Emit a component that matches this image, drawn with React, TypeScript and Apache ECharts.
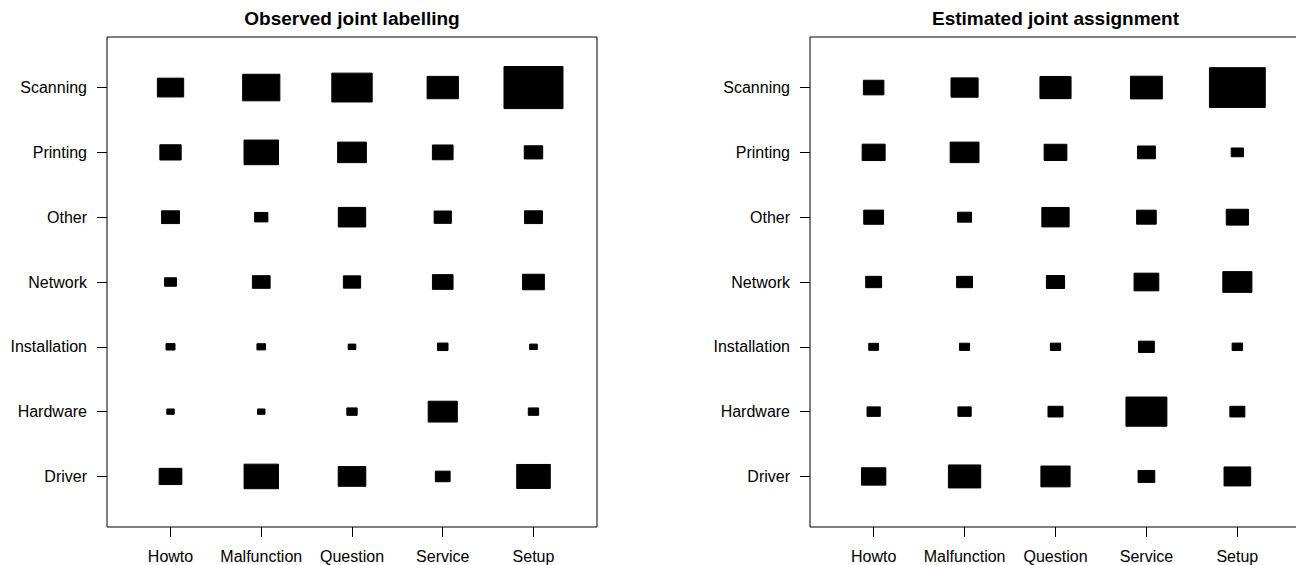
import React, { useEffect, useRef } from "react";
import * as echarts from "echarts";

// Categories
const xCategories = ["Howto", "Malfunction", "Question", "Service", "Setup"];
const yCategories = ["Driver", "Hardware", "Installation", "Network", "Other", "Printing", "Scanning"];

const panelTitles = ["Observed joint labelling", "Estimated joint assignment"];

// Square side (in category units), rows follow yCategories (bottom to top), columns follow xCategories
const observedDriver = [0.25, 0.379, 0.304, 0.163, 0.37];
const observedHardware = [0.082, 0.082, 0.114, 0.321, 0.114];
const observedInstallation = [0.099, 0.095, 0.084, 0.116, 0.084];
const observedNetwork = [0.131, 0.195, 0.19, 0.227, 0.24];
const observedOther = [0.197, 0.146, 0.302, 0.19, 0.197];
const observedPrinting = [0.235, 0.38, 0.317, 0.228, 0.203];
const observedScanning = [0.29, 0.41, 0.445, 0.345, 0.65];

const estimatedDriver = [0.268, 0.355, 0.321, 0.184, 0.293];
const estimatedHardware = [0.146, 0.146, 0.165, 0.45, 0.165];
const estimatedInstallation = [0.108, 0.111, 0.113, 0.174, 0.115];
const estimatedNetwork = [0.175, 0.175, 0.2, 0.272, 0.32];
const estimatedOther = [0.218, 0.154, 0.3, 0.216, 0.244];
const estimatedPrinting = [0.253, 0.317, 0.25, 0.197, 0.135];
const estimatedScanning = [0.225, 0.298, 0.342, 0.35, 0.614];

const observedRows = [
  observedDriver,
  observedHardware,
  observedInstallation,
  observedNetwork,
  observedOther,
  observedPrinting,
  observedScanning,
];
const estimatedRows = [
  estimatedDriver,
  estimatedHardware,
  estimatedInstallation,
  estimatedNetwork,
  estimatedOther,
  estimatedPrinting,
  estimatedScanning,
];

const FONT = "'Liberation Sans', Arial, Helvetica, sans-serif";

function toData(rows: number[][]) {
  const out: number[][] = [];
  rows.forEach((row, yi) => {
    row.forEach((s, xi) => {
      out.push([xi + 1, yi + 1, s]);
    });
  });
  return out;
}

const xTickValues = xCategories.map((_, i) => i + 1);
const yTickValues = yCategories.map((_, i) => i + 1);

function makeX(gridIndex: number) {
  return {
    type: "value",
    gridIndex,
    min: 0.3,
    max: 5.7,
    splitLine: { show: false },
    axisLine: { show: false },
    axisTick: {
      show: true,
      length: 10,
      customValues: xTickValues,
      lineStyle: { color: "#000", width: 1 },
    },
    axisLabel: {
      customValues: xTickValues,
      margin: 21,
      color: "#000",
      fontSize: 16,
      fontFamily: FONT,
      formatter: (v: number) => xCategories[Math.round(v) - 1] ?? "",
    },
  };
}

function makeY(gridIndex: number) {
  return {
    type: "value",
    gridIndex,
    min: 0.22,
    max: 7.78,
    splitLine: { show: false },
    axisLine: { show: false },
    axisTick: {
      show: true,
      length: 10,
      customValues: yTickValues,
      lineStyle: { color: "#000", width: 1 },
    },
    axisLabel: {
      customValues: yTickValues,
      margin: 20,
      color: "#000",
      fontSize: 16,
      fontFamily: FONT,
      formatter: (v: number) => yCategories[Math.round(v) - 1] ?? "",
    },
  };
}

function renderSquare(params: any, api: any) {
  const x = api.value(0);
  const y = api.value(1);
  const s = api.value(2);
  const c = api.coord([x, y]);
  const sz = api.size([s, s]);
  return {
    type: "rect",
    shape: { x: c[0] - sz[0] / 2, y: c[1] - sz[1] / 2, width: sz[0], height: sz[1] },
    style: { fill: "#000", stroke: "#000", lineWidth: 1 },
  };
}

export default function App() {
  const ref = useRef<HTMLDivElement>(null);
  useEffect(() => {
    if (!ref.current) return;
    const chart = echarts.init(ref.current, undefined, { renderer: "svg" });
    const grids = [
      { left: 107, top: 37, width: 490, height: 490 },
      { left: 810, top: 37, width: 491, height: 490 },
    ];
    chart.setOption({
      animation: false,
      backgroundColor: "#fff",
      grid: grids.map((g) => ({
        ...g,
        show: true,
        borderColor: "#000",
        borderWidth: 1,
        backgroundColor: "transparent",
        containLabel: false,
      })),
      xAxis: [makeX(0), makeX(1)],
      yAxis: [makeY(0), makeY(1)],
      graphic: panelTitles.map((t, i) => ({
        type: "text",
        x: grids[i].left + grids[i].width / 2,
        y: 18,
        style: {
          text: t,
          fontSize: 19,
          fontWeight: "bold",
          fontFamily: FONT,
          fill: "#000",
          textAlign: "center",
          textVerticalAlign: "middle",
        },
      })),
      series: [
        {
          type: "custom",
          xAxisIndex: 0,
          yAxisIndex: 0,
          renderItem: renderSquare,
          data: toData(observedRows),
        },
        {
          type: "custom",
          xAxisIndex: 1,
          yAxisIndex: 1,
          renderItem: renderSquare,
          data: toData(estimatedRows),
        },
      ],
    });
    return () => chart.dispose();
  }, []);
  return (
    <div
      style={{
        position: "fixed",
        left: 0,
        top: 0,
        width: 1296,
        height: 565,
        overflow: "hidden",
        background: "#fff",
      }}
    >
      <div ref={ref} style={{ width: 1320, height: 565 }} />
    </div>
  );
}
